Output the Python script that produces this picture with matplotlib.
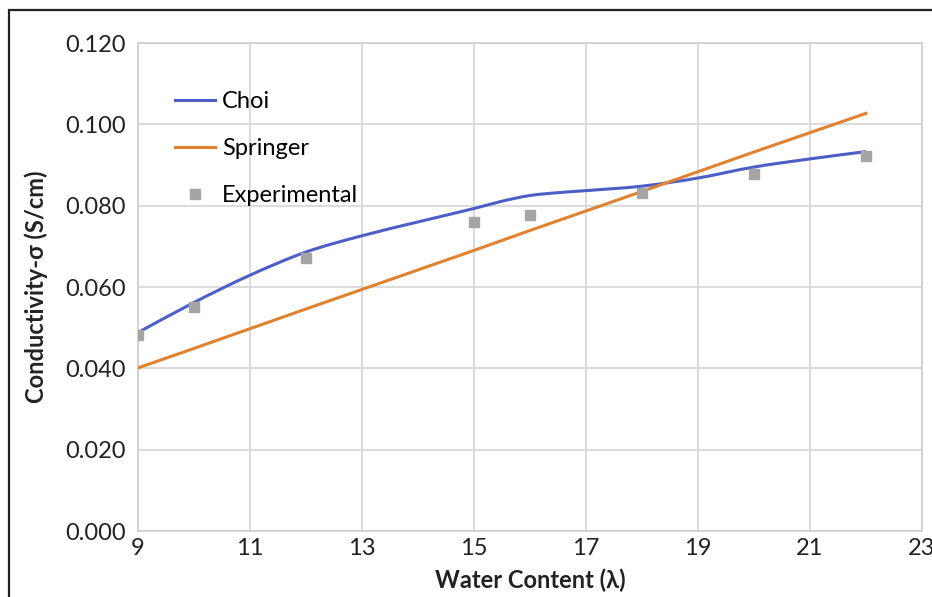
import numpy as np
import matplotlib.pyplot as plt
from matplotlib.patches import Rectangle, PathPatch
from matplotlib.path import Path
from matplotlib.lines import Line2D

# water content values (lambda)
exp_x = [9, 10, 12, 15, 16, 18, 20, 22]
exp_y = [0.0482, 0.0552, 0.0671, 0.0761, 0.0776, 0.0831, 0.0879, 0.0922]

choi_x = [9, 10, 11, 12, 13, 14, 15, 15.5, 16, 16.5, 17, 18, 19, 20, 21, 22]
choi_y = [0.0488, 0.0562, 0.0629, 0.0686, 0.0726, 0.0760, 0.0793, 0.0811,
          0.0825, 0.0832, 0.0837, 0.0848, 0.0868, 0.0895, 0.0915, 0.0933]

springer_x = [9, 10, 12, 15, 16, 18, 20, 22]
springer_y = [0.0401, 0.0449, 0.0546, 0.0690, 0.0739, 0.0835, 0.0932, 0.1027]

xticks = [9, 11, 13, 15, 17, 19, 21, 23]
yticks = [0.0, 0.02, 0.04, 0.06, 0.08, 0.10, 0.12]

BLUE = '#4d5fc7'
ORANGE = '#e0822f'
GREY = '#a5a5a5'
FS = 17

plt.rcParams['font.family'] = ['Lato', 'DejaVu Sans']

fig = plt.figure(figsize=(9.32, 5.97), dpi=100)
ax = fig.add_axes([138 / 932, 66 / 597, 784 / 932, 488 / 597])


# smoothed line like a spreadsheet "smooth line" (cubic bezier through the points)
def smooth_path(xs, ys, t=1 / 6):
    p = np.column_stack([xs, ys])
    verts = [p[0]]
    codes = [Path.MOVETO]
    for i in range(len(p) - 1):
        p0 = p[i - 1] if i > 0 else p[i]
        p3 = p[i + 2] if i + 2 < len(p) else p[i + 1]
        c1 = p[i] + (p[i + 1] - p0) * t
        c2 = p[i + 1] - (p3 - p[i]) * t
        verts += [c1, c2, p[i + 1]]
        codes += [Path.CURVE4] * 3
    return Path(verts, codes)


ax.add_patch(PathPatch(smooth_path(choi_x, choi_y), fill=False, edgecolor=BLUE,
                       lw=2.2, zorder=3))
ax.plot(springer_x, springer_y, color=ORANGE, lw=2.2, zorder=3)
ax.plot(exp_x, exp_y, 's', color=GREY, ms=7, zorder=4)

ax.set_xlim(9, 23)
ax.set_ylim(0, 0.12)
ax.set_xticks(xticks)
ax.set_yticks(yticks)
ax.set_yticklabels(['%.3f' % v for v in yticks])
ax.tick_params(labelsize=FS, length=0, colors='#222222')
ax.tick_params(axis='x', pad=5)
ax.tick_params(axis='y', pad=9)
ax.grid(True, color='#d9d9d9', lw=1.3)
ax.set_axisbelow(True)
for s in ax.spines.values():
    s.set_color('#d0d0d0')
    s.set_linewidth(1.3)

ax.set_xlabel('Water Content (λ)', fontsize=FS, fontweight='bold', color='#222222', labelpad=7)
ax.set_ylabel('Conductivity-σ (S/cm)', fontsize=FS, fontweight='bold', color='#222222', labelpad=12)

handles = [Line2D([], [], color=BLUE, lw=2.2),
           Line2D([], [], color=ORANGE, lw=2.2),
           Line2D([], [], ls='', marker='s', color=GREY, ms=7)]
ax.legend(handles, ['Choi', 'Springer', 'Experimental'], loc='upper left',
          bbox_to_anchor=(0.02, 0.945), frameon=False, fontsize=FS,
          handlelength=1.7, handletextpad=0.3, labelspacing=1.1)

# outer frame (cropped at right and bottom)
fig.patches.append(Rectangle((9 / 932, -0.1), 1.2, 1 - 10 / 597 + 0.1,
                             transform=fig.transFigure, fill=False,
                             edgecolor='#222222', lw=1.6))

fig.savefig('out.png', dpi=100)
